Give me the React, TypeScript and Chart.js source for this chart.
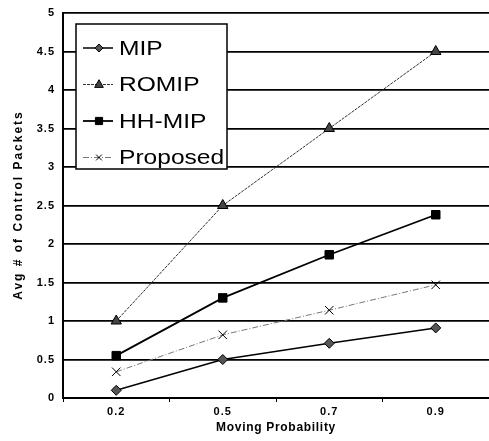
import React, { useEffect, useRef } from "react";
import { Chart, registerables } from "chart.js";

Chart.register(...registerables);

const categories = ["0.2", "0.5", "0.7", "0.9"];
const mipValues = [0.1, 0.5, 0.71, 0.91];
const romipValues = [1.0, 2.5, 3.5, 4.5];
const hhmipValues = [0.55, 1.3, 1.86, 2.38];
const proposedValues = [0.34, 0.82, 1.14, 1.47];
const seriesNames = ["MIP", "ROMIP", "HH-MIP", "Proposed"];
const yTitle = "Avg # of Control Packets";
const xTitle = "Moving Probability";

const FONT = "'Liberation Sans', Arial, sans-serif";

function drawMarker(ctx: CanvasRenderingContext2D, style: string, x: number, y: number, r: number, fill: string, stroke: string) {
  ctx.save();
  ctx.fillStyle = fill;
  ctx.strokeStyle = stroke;
  ctx.lineWidth = 1;
  ctx.setLineDash([]);
  ctx.beginPath();
  if (style === "rectRot") {
    ctx.moveTo(x, y - r);
    ctx.lineTo(x + r, y);
    ctx.lineTo(x, y + r);
    ctx.lineTo(x - r, y);
    ctx.closePath();
    ctx.fill();
    ctx.stroke();
  } else if (style === "triangle") {
    ctx.moveTo(x, y - r);
    ctx.lineTo(x + r * 0.9, y + r * 0.6);
    ctx.lineTo(x - r * 0.9, y + r * 0.6);
    ctx.closePath();
    ctx.fill();
    ctx.stroke();
  } else if (style === "rect") {
    ctx.rect(x - r * 0.75, y - r * 0.75, r * 1.5, r * 1.5);
    ctx.fill();
    ctx.stroke();
  } else {
    const d = r * 0.6;
    ctx.moveTo(x - d, y - d);
    ctx.lineTo(x + d, y + d);
    ctx.moveTo(x + d, y - d);
    ctx.lineTo(x - d, y + d);
    ctx.stroke();
  }
  ctx.restore();
}

const spacingPlugin = {
  id: "tickSpacing",
  beforeDraw(chart: any) {
    (chart.ctx as any).letterSpacing = "1px";
  },
  afterDraw(chart: any) {
    (chart.ctx as any).letterSpacing = "0px";
  },
};

const legendPlugin = {
  id: "insideLegend",
  afterDraw(chart: any) {
    const { ctx } = chart;
    const x0 = 76;
    const y0 = 24;
    const w = 151;
    const h = 145;
    ctx.save();
    (ctx as any).letterSpacing = "0px";
    ctx.fillStyle = "#ffffff";
    ctx.fillRect(x0, y0, w, h);
    ctx.strokeStyle = "#000";
    ctx.lineWidth = 1.5;
    ctx.strokeRect(x0, y0, w, h);
    chart.data.datasets.forEach((ds: any, i: number) => {
      const cy = y0 + 24 + i * 36.5;
      ctx.strokeStyle = ds.borderColor;
      ctx.lineWidth = ds.borderWidth;
      ctx.setLineDash(ds.borderDash || []);
      ctx.beginPath();
      ctx.moveTo(83, cy);
      ctx.lineTo(113, cy);
      ctx.stroke();
      ctx.setLineDash([]);
      drawMarker(ctx, ds.pointStyle, 99, cy, ds.pointRadius * 0.8, ds.pointBackgroundColor, ds.pointBorderColor);
      ctx.save();
      ctx.translate(119, cy + 1);
      ctx.scale(1.17, 1);
      ctx.fillStyle = "#000";
      ctx.font = `21px ${FONT}`;
      ctx.textBaseline = "middle";
      ctx.textAlign = "left";
      ctx.fillText(ds.label, 0, 0);
      ctx.restore();
    });
    ctx.restore();
  },
};

const titlePlugin = {
  id: "axisTitles",
  afterDraw(chart: any) {
    const { ctx, chartArea } = chart;
    ctx.save();
    ctx.fillStyle = "#000";
    (ctx as any).letterSpacing = "2px";
    ctx.font = `bold 12px ${FONT}`;
    ctx.textAlign = "center";
    ctx.textBaseline = "middle";
    ctx.translate(19, 205);
    ctx.rotate(-Math.PI / 2);
    ctx.fillText(yTitle, 0, 0);
    ctx.restore();
    ctx.save();
    ctx.fillStyle = "#000";
    (ctx as any).letterSpacing = "0.7px";
    ctx.font = `bold 12px ${FONT}`;
    ctx.textAlign = "center";
    ctx.textBaseline = "middle";
    ctx.fillText(xTitle, (chartArea.left + chartArea.right) / 2, 428);
    ctx.restore();
  },
};

export default function App() {
  const ref = useRef<HTMLCanvasElement | null>(null);
  useEffect(() => {
    document.body.style.margin = "0";
    const el = ref.current!;
    const mk = (
      label: string,
      data: number[],
      color: string,
      width: number,
      dash: number[],
      pstyle: string,
      r: number,
      fill: string
    ) => ({
      label,
      data,
      borderColor: color,
      borderWidth: width,
      borderDash: dash,
      pointStyle: pstyle,
      pointRadius: r,
      pointBackgroundColor: fill,
      pointBorderColor: "#000",
      pointBorderWidth: 1,
      fill: false,
      tension: 0,
      clip: false,
    });
    const chart = new Chart(el, {
      type: "line",
      data: {
        labels: categories,
        datasets: [
          mk(seriesNames[0], mipValues, "#000", 1.5, [], "rectRot", 5, "#555"),
          mk(seriesNames[1], romipValues, "#333", 1, [3, 1], "triangle", 6, "#444"),
          mk(seriesNames[2], hhmipValues, "#000", 1.8, [], "rect", 6, "#000"),
          mk(seriesNames[3], proposedValues, "#777", 1, [6, 2, 1, 2], "crossRot", 6, "#777"),
        ],
      },
      options: {
        animation: false,
        responsive: false,
        maintainAspectRatio: false,
        layout: { autoPadding: false, padding: { top: 13, right: 0, left: 27, bottom: 0 } },
        plugins: {
          legend: { display: false },
          tooltip: { enabled: false },
        },
        scales: {
          x: {
            offset: true,
            afterFit(scale: any) {
              scale.height = 43;
              scale.paddingLeft = 0;
              scale.paddingRight = 0;
            },
            grid: {
              display: true,
              drawOnChartArea: false,
              offset: true,
              tickLength: 4,
              color: "#000",
            },
            border: { color: "#000", width: 2 },
            ticks: {
              color: "#000",
              font: { size: 11, weight: "bold", family: FONT },
              padding: 3,
            },
          },
          y: {
            min: 0,
            max: 5,
            afterFit(scale: any) {
              scale.width = 36;
              scale.paddingTop = 0;
              scale.paddingBottom = 0;
            },
            ticks: {
              stepSize: 0.5,
              color: "#000",
              font: { size: 11, weight: "bold", family: FONT },
              padding: 8,
              callback: (v: any) => String(Number(v)),
            },
            grid: { color: "#000", lineWidth: 1.8, drawTicks: false },
            border: { color: "#000", width: 2 },
          },
        },
      },
      plugins: [spacingPlugin, legendPlugin, titlePlugin],
    } as any);
    return () => chart.destroy();
  }, []);
  return <canvas ref={ref} width={489} height={441} style={{ display: "block" }} />;
}
